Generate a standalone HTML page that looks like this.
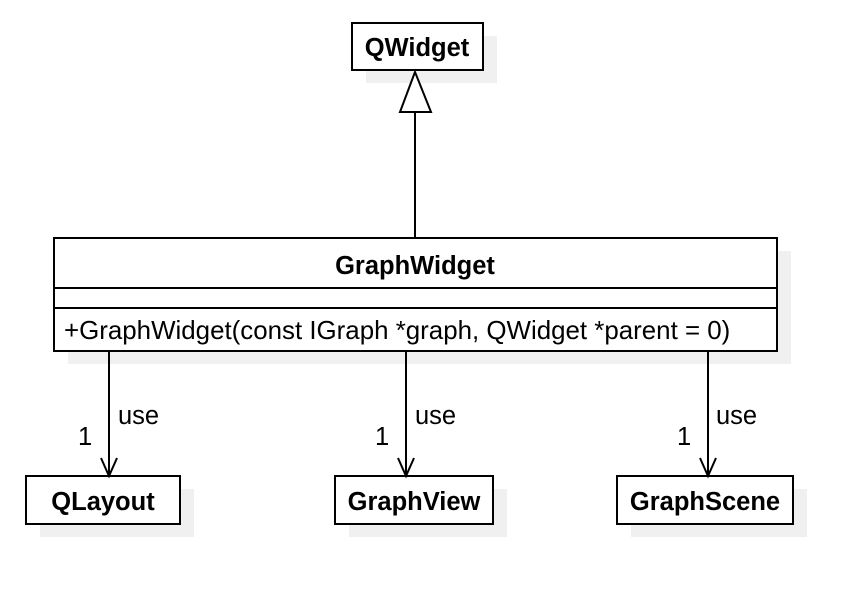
<!DOCTYPE html>
<html><head><meta charset="utf-8"><style>body{margin:0;background:#fff}svg{display:block}</style></head>
<body>
<svg width="866" height="602" xmlns="http://www.w3.org/2000/svg" font-family="Liberation Sans, Arial, sans-serif">
<g fill="#f0f0f0">
<rect x="366" y="36" width="131" height="47"/>
<rect x="68" y="251" width="723" height="113"/>
<rect x="40" y="489" width="154" height="48"/>
<rect x="349" y="489" width="158" height="48"/>
<rect x="631" y="489" width="176" height="48"/>
</g>
<g fill="#fff" stroke="#000" stroke-width="2">
<rect x="352" y="23" width="131" height="47"/>
<rect x="54" y="238" width="723" height="113"/>
<rect x="26" y="476" width="154" height="48"/>
<rect x="335" y="476" width="158" height="48"/>
<rect x="617" y="476" width="176" height="48"/>
</g>
<g stroke="#000" stroke-width="2" fill="none">
<line x1="54" y1="288" x2="777" y2="288"/>
<line x1="54" y1="308" x2="777" y2="308"/>
<line x1="415" y1="112" x2="415" y2="238"/>
<polygon points="415,72 400,112 431,112" fill="#fff"/>
<line x1="109" y1="351" x2="109" y2="475"/>
<polyline points="101,458 109,476 117,458"/>
<line x1="406" y1="351" x2="406" y2="475"/>
<polyline points="398,458 406,476 414,458"/>
<line x1="708" y1="351" x2="708" y2="475"/>
<polyline points="700,458 708,476 716,458"/>
</g>
<g font-size="25.5" fill="#000">
<text x="417" y="56" text-anchor="middle" font-weight="bold">QWidget</text>
<text x="415" y="274" text-anchor="middle" font-weight="bold">GraphWidget</text>
<text x="64" y="339" font-size="25.9">+GraphWidget(const IGraph *graph, QWidget *parent = 0)</text>
<text x="103" y="510" text-anchor="middle" font-weight="bold">QLayout</text>
<text x="414" y="510" text-anchor="middle" font-weight="bold">GraphView</text>
<text x="705" y="510" text-anchor="middle" font-weight="bold">GraphScene</text>
<text x="118" y="424">use</text><text x="78" y="445">1</text>
<text x="415" y="424">use</text><text x="375" y="445">1</text>
<text x="716" y="424">use</text><text x="677" y="445">1</text>
</g>
</svg>
</body></html>
